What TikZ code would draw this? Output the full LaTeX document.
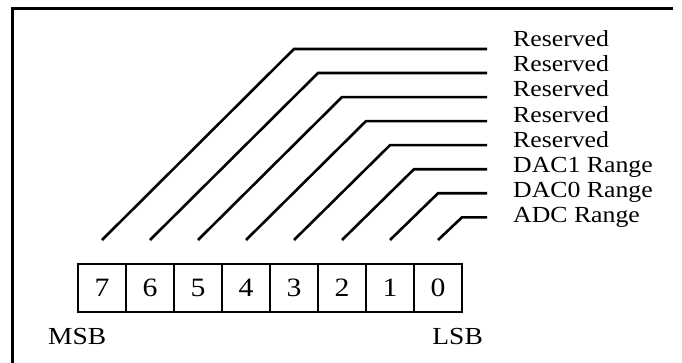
\documentclass[tikz,border=0pt]{standalone}
\usepackage{fontspec}
\setmainfont{Liberation Serif}[FakeStretch=1.12]
\begin{document}
\begin{tikzpicture}[x=1pt,y=-1pt,
  cell/.style={draw,line width=2.4pt,minimum width=48pt,minimum height=48pt,inner sep=0pt,
    font=\fontsize{26.5}{30}\selectfont},
  leader/.style={line width=2.6pt,line join=miter},
  lab/.style={anchor=base west,inner sep=0pt,font=\fontsize{23}{27}\selectfont},
  endlab/.style={inner sep=0pt,font=\fontsize{24.5}{28}\selectfont},
  frame/.style={line width=3pt}]
\useasboundingbox (0,0) rectangle (682,362);
% frame (top and left edges)
\coordinate (f1) at (12.5,400);
\coordinate (f2) at (12.5,8);
\coordinate (f3) at (673,8);
\draw[frame] (f1) -- (f2) -- (f3);
% register cells
\foreach \i in {0,...,7}{
  \node[cell] (c\i) at ({102+48*(7-\i)},288) {\i};
}
\node[endlab,anchor=base west] (msb) at (48,344) {MSB};
\node[endlab,anchor=base east] (lsb) at (483,344) {LSB};
% leaders and labels
\foreach \i/\t in {7/Reserved,6/Reserved,5/Reserved,4/Reserved,3/Reserved,2/DAC1 Range,1/DAC0 Range,0/ADC Range}{
  \coordinate (s\i) at ({102+48*(7-\i)},240);
  \coordinate (k\i) at ({462-24*\i},{217.3-24.05*\i});
  \coordinate (e\i) at (487,{217.3-24.05*\i});
  \node[lab] (l\i) at (513,{46.5+25.2*(7-\i)}) {\t};
  \draw[leader] (s\i) -- (k\i) -- (e\i);
}
\end{tikzpicture}
\end{document}
